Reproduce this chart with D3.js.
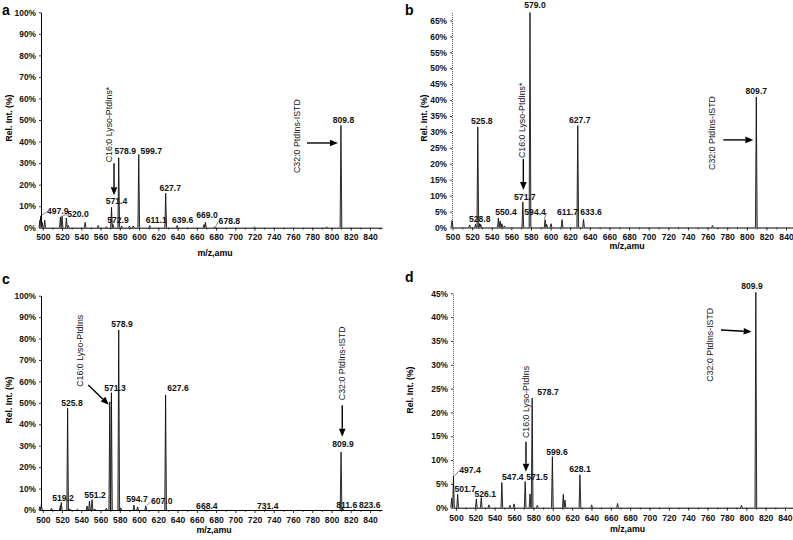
<!DOCTYPE html>
<html><head><meta charset="utf-8">
<script src="https://cdn.jsdelivr.net/npm/d3@7"></script>
<style>body{margin:0;background:#fff}</style>
</head><body><svg id="chart" width="793" height="540"></svg>
<script>
// ---------------- DATA ----------------
const xTickValues = [500,520,540,560,580,600,620,640,660,680,700,720,740,760,780,800,820,840];
const yTicksA = [0,10,20,30,40,50,60,70,80,90,100];
const yTicksB = [0,5,10,15,20,25,30,35,40,45,50,55,60,65];
const yTicksC = [0,10,20,30,40,50,60,70,80,90,100];
const yTicksD = [0,5,10,15,20,25,30,35,40,45];

// panel a
const mzA  = [497.0,497.9,499.3,502.0,518.3,520.0,524.5,526.5,544.0,557.5,566.0,571.4,572.9,578.9,582.0,590.0,594.0,599.7,611.1,627.7,639.6,667.5,669.0,678.8,720.0,795.0,809.8];
const intA = [3.5,  5.5,  2.5,  3.5,  5.0,  5.5,  4.5,  1.0,  2.5,  1.0,  0.5,  9.5,  1.5,  32.5, 0.8,  0.8,  0.8,  34.0, 1.0,  16.0, 1.0,  1.5,  2.5,  0.5,  0.3,  0.4,  47.5];
const labelsA = ["497.9","520.0","571.4","572.9","578.9","599.7","611.1","627.7","639.6","669.0","678.8","809.8"];

// panel b
const mzB  = [499.5,517.5,523.5,525.8,527.5,528.8,546.8,548.5,550.4,553.0,571.7,579.0,594.4,596.0,600.5,611.7,627.7,633.6,765.0,809.7];
const intB = [2.2,  0.8,  1.0,  31.6, 1.2,  1.0,  3.0,  2.0,  1.2,  0.5,  8.0,  67.5, 2.5,  1.0,  1.2,  2.5,  32.0, 2.5,  0.6,  41.0];
const labelsB = ["579.0","525.8","528.8","550.4","571.7","594.4","611.7","627.7","633.6","809.7"];

// panel c
const mzC  = [496.8,498.5,509.0,518.2,519.2,525.8,528.0,536.0,546.0,548.5,551.2,554.0,566.0,569.6,571.3,578.9,581.0,594.7,598.5,607.0,627.6,668.4,731.4,809.9,811.6,823.6];
const intC = [1.5,  2.5,  0.8,  2.0,  3.5,  47.5, 0.5,  0.4,  1.9,  4.2,  4.8,  0.5,  0.8,  50.5, 54.7, 84.0, 1.0,  2.3,  1.5,  1.9,  53.7, 0.2,  0.2,  27.0, 1.0,  0.2];
const labelsC = ["519.2","525.8","551.2","571.3","578.9","594.7","607.0","627.6","668.4","731.4","809.9","811.6","823.6"];

// panel d
const mzD  = [495.5,497.4,501.7,521.0,526.1,534.0,547.4,555.8,560.0,571.5,576.5,578.7,584.0,599.6,610.9,612.6,628.1,640.2,667.0,795.0,809.9];
const intD = [2.0,  6.6,  2.8,  1.8,  2.1,  0.6,  5.3,  0.5,  0.8,  5.5,  2.9,  23.0, 0.5,  10.7, 2.8,  1.6,  6.9,  0.6,  0.9,  0.5,  45.2];
const labelsD = ["497.4","501.7","526.1","547.4","571.5","578.7","599.6","628.1","809.9"];

const lysoStar = "C16:0 Lyso-PtdIns*";
const lyso = "C16:0 Lyso-PtdIns";
const istd = "C32:0 PtdIns-ISTD";

// ---------------- LAYOUT ----------------
const FONT = "'Liberation Sans', Arial, Helvetica, sans-serif";
const panels = [
  {letter:"a", mz:mzA, inten:intA, labels:labelsA, yTicks:yTicksA,
   xd:[498.13,852.45], xr:[41,382], yd:[0,100], yr:[227.7,12.3], dotted:false,
   letterPos:[2,15], yTitle:[9,118], xTitle:[215,256], xPad:3,
   off:{"497.9":[17,-2,1],"520.0":[16,1,1],"571.4":[5,-3],"572.9":[5,-1.5],"578.9":[6.5,-3.7],"599.7":[12.5,-0.5],
        "611.1":[6.5,-2.5],"627.7":[4.5,-2.2],"639.6":[5.5,-2.5],"669.0":[1.5,-4.3],"678.8":[14.5,-2.6,1],"809.8":[2.5,-2.4]},
   annos:[{peak:571.4,text:lysoStar,t:[-2.5,-45],a0:[2.5,-44],a1:[2.5,-12]},
          {peak:809.8,text:istd,t:[-44,47.6],a0:[-34,17.6],a1:[-3,17.6]}]},
  {letter:"b", mz:mzB, inten:intB, labels:labelsB, yTicks:yTicksB,
   xd:[499.49,847.1], xr:[452,793], yd:[0,67.5], yr:[227.5,12.5], dotted:true,
   letterPos:[405,15], yTitle:[424,118], xTitle:[627,248.5], xPad:3,
   off:{"579.0":[5,-4.5],"525.8":[4,-3],"528.8":[-1,-2],"550.4":[4,-8.7],"571.7":[2,-2],"594.4":[-10,-4.5,1],
        "611.7":[5.5,-4.5],"627.7":[2,-2.6],"633.6":[7.5,-4.5],"809.7":[0,-3]},
   annos:[{peak:571.7,text:lysoStar,t:[-0.8,-44],a0:[0.5,-43],a1:[0.5,-12]},
          {peak:809.7,text:istd,t:[-44.3,73],a0:[-33,43],a1:[-3,43]}]},
  {letter:"c", mz:mzC, inten:intC, labels:labelsC, yTicks:yTicksC,
   xd:[498.13,852.45], xr:[41,382], yd:[0,100], yr:[510,295.7], dotted:false,
   letterPos:[2,284], yTitle:[9,400], xTitle:[214,533], xPad:4,
   off:{"519.2":[1.7,-1.5],"525.8":[4.4,-2.2],"551.2":[3,-1.7],"571.3":[3.6,-1.8],"578.9":[3.3,-3],"594.7":[3,-3],
        "607.0":[16,-1.9,1],"627.6":[12.4,-3.9],"668.4":[2,-0.6],"731.4":[2.3,-0.6],"809.9":[1.9,-5.1],"811.6":[4,-0.2],"823.6":[15.5,-1.6]},
   annos:[{peak:569.6,text:lyso,t:[-29.3,-15],a0:[-21.5,-16.8],a1:[-1,3]},
          {peak:809.9,text:istd,t:[0.6,-52],a0:[1.2,-47],a1:[1.2,-15.4]}]},
  {letter:"d", mz:mzD, inten:intD, labels:labelsD, yTicks:yTicksD,
   xd:[496.9,848.3], xr:[453,793], yd:[0,45], yr:[507.7,293.3], dotted:true,
   letterPos:[405,282], yTitle:[410,390], xTitle:[627.5,532], xPad:4,
   off:{"497.4":[16.5,-3,1],"501.7":[7.5,-2.5],"526.1":[4,-1],"547.4":[11,-2.5],"571.5":[11.8,-1.5],"578.7":[15.8,-3],
        "599.6":[4.6,-2],"628.1":[0,-3],"809.9":[-3.9,-3.5]},
   annos:[{peak:571.5,text:lyso,t:[0.8,-43.5],a0:[0.8,-39.8],a1:[0.8,-9.8]},
          {peak:809.9,text:istd,t:[-45.9,89.3],a0:[-34.9,37.6],a1:[-4.2,39.3]}]}
];

const svg = d3.select("#chart");
const HW = 0.9; // peak half width (m/z units)

panels.forEach(p => {
  const x = d3.scaleLinear().domain(p.xd).range(p.xr);
  const y = d3.scaleLinear().domain(p.yd).range(p.yr);
  const g = svg.append("g");

  // x axis (major + minor)
  const minor = xTickValues.slice(0,-1).map((v,i)=> (v + xTickValues[i+1])/2).concat([xTickValues[xTickValues.length-1]+10]).filter(v=>x(v)<=p.xr[1]);
  const xMinor = g.append("g").attr("transform",`translate(0,${y(0)})`)
    .call(d3.axisBottom(x).tickValues(minor).tickSize(2).tickFormat(""));
  xMinor.select(".domain").remove();
  xMinor.selectAll("line").attr("stroke","#222").attr("stroke-width",0.7);
  const xa = g.append("g").attr("transform",`translate(0,${y(0)})`)
    .call(d3.axisBottom(x).tickValues(xTickValues).tickSize(3).tickSizeOuter(0).tickPadding(p.xPad).tickFormat(d3.format("d")));
  xa.select(".domain").attr("stroke","#000").attr("stroke-width",1);
  xa.selectAll("line").attr("stroke","#000").attr("stroke-width",0.8);
  xa.selectAll("text").attr("font-family",FONT).attr("font-weight","bold").attr("font-size","8.6px").attr("fill","#111");

  // y axis
  const ya = g.append("g").attr("transform",`translate(${p.xr[0]},0)`)
    .call(d3.axisLeft(y).tickValues(p.yTicks).tickSize(2).tickSizeOuter(0).tickPadding(3).tickFormat(d=>d+"%"));
  ya.select(".domain").attr("stroke", p.dotted ? "#555" : "#000").attr("stroke-width", 1)
    .attr("stroke-dasharray", p.dotted ? "1,1" : null);
  ya.selectAll("line").attr("stroke","#000").attr("stroke-width",0.8);
  ya.selectAll("text").attr("font-family",FONT).attr("font-weight","bold").attr("font-size","8.4px").attr("fill","#111");

  // titles
  g.append("text").attr("x",p.letterPos[0]).attr("y",p.letterPos[1]).text(p.letter)
    .attr("font-family",FONT).attr("font-weight","bold").attr("font-size","14px");
  g.append("text").attr("transform",`translate(${p.yTitle[0]},${p.yTitle[1]}) rotate(-90)`)
    .attr("text-anchor","middle").attr("dominant-baseline","central").text("Rel. Int. (%)")
    .attr("font-family",FONT).attr("font-weight","bold").attr("font-size","8.6px");
  g.append("text").attr("x",p.xTitle[0]).attr("y",p.xTitle[1]).attr("text-anchor","middle").text("m/z,amu")
    .attr("font-family",FONT).attr("font-weight","bold").attr("font-size","8.8px");

  // peaks
  const peaks = p.mz.map((m,i)=>({m, v:p.inten[i]}));
  const line = d3.line();
  g.append("g").selectAll("path").data(peaks).join("path")
    .attr("d", d => line([[x(d.m-HW), y(0)], [x(d.m), y(d.v)], [x(d.m+HW), y(0)]]))
    .attr("fill","#b5b5b5").attr("stroke","#000").attr("stroke-width",0.8).attr("stroke-linejoin","miter");

  // peak labels
  const peakOf = t => peaks.find(d => Math.abs(d.m - parseFloat(t)) < 0.01);
  p.labels.forEach(t => {
    const pk = peakOf(t); if (!pk) return;
    const o = p.off[t] || [2,-3];
    const px = x(pk.m), py = y(pk.v);
    const tx = g.append("text").attr("x",px+o[0]).attr("y",py+o[1]).attr("text-anchor","middle").text(t)
      .attr("font-family",FONT).attr("font-weight","bold").attr("font-size","8.6px").attr("fill","#111");
    if (o[2]) {
      const bb = tx.node().getBBox();
      const right = o[0] > 0;
      const ex = right ? bb.x - 0.5 : bb.x + bb.width + 0.5;
      const ey = bb.y + bb.height*0.6;
      g.append("line").attr("x1",px + (right?1:-1)).attr("y1",py-0.5).attr("x2",ex).attr("y2",ey)
        .attr("stroke","#333").attr("stroke-width",0.6);
    }
  });

  // annotations
  p.annos.forEach(a => {
    const pk = peaks.find(d=>Math.abs(d.m-a.peak)<0.01);
    const px = x(pk.m), py = y(pk.v);
    g.append("text").attr("transform",`translate(${px+a.t[0]},${py+a.t[1]}) rotate(-90)`)
      .attr("text-anchor","start").attr("dominant-baseline","central").text(a.text)
      .attr("font-family",FONT).attr("font-size","8.8px").attr("fill","#111");
    const x0 = px+a.a0[0], y0 = py+a.a0[1], x1 = px+a.a1[0], y1 = py+a.a1[1];
    const ang = Math.atan2(y1-y0, x1-x0);
    const L = 8, W = 3.3;
    const bx = x1 - L*Math.cos(ang), by = y1 - L*Math.sin(ang);
    g.append("line").attr("x1",x0).attr("y1",y0).attr("x2",bx).attr("y2",by)
      .attr("stroke","#000").attr("stroke-width",1.4);
    g.append("path").attr("d", line([[x1,y1],[bx - W*Math.sin(ang), by + W*Math.cos(ang)],[bx + W*Math.sin(ang), by - W*Math.cos(ang)]]) + "Z")
      .attr("fill","#000");
  });
});
</script></body></html>
